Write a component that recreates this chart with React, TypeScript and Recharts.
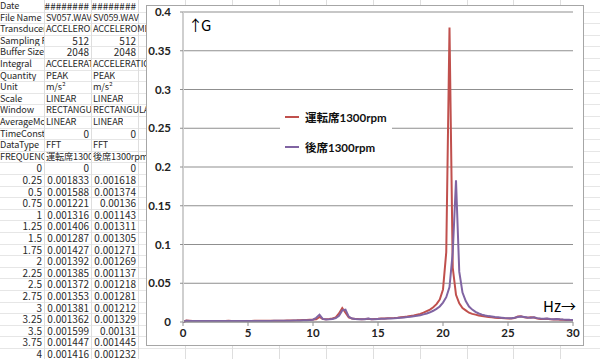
import React from "react";
import { LineChart, Line, XAxis, YAxis, CartesianGrid } from "recharts";

const freqs = [
  0, 0.25, 0.5, 0.75, 1, 1.25, 1.5, 1.75, 2, 2.25, 2.5, 2.75, 3, 3.25, 3.5, 3.75,
  4, 4.25, 4.5, 4.75, 5, 5.25, 5.5, 5.75, 6, 6.25, 6.5, 6.75, 7, 7.25, 7.5, 7.75,
  8, 8.25, 8.5, 8.75, 9, 9.25, 9.5, 9.75, 10, 10.25, 10.5, 10.75, 11, 11.25, 11.5, 11.75,
  12, 12.25, 12.5, 12.75, 13, 13.25, 13.5, 13.75, 14, 14.25, 14.5, 14.75, 15, 15.25, 15.5, 15.75,
  16, 16.25, 16.5, 16.75, 17, 17.25, 17.5, 17.75, 18, 18.25, 18.5, 18.75, 19, 19.25, 19.5, 19.75,
  20, 20.25, 20.5, 20.75, 21, 21.25, 21.5, 21.75, 22, 22.25, 22.5, 22.75, 23, 23.25, 23.5, 23.75,
  24, 24.25, 24.5, 24.75, 25, 25.25, 25.5, 25.75, 26, 26.25, 26.5, 26.75, 27, 27.25, 27.5, 27.75,
  28, 28.25, 28.5, 28.75, 29, 29.25, 29.5, 29.75, 30,
];

// 運転席1300rpm
const seatDriver = [
  0, 0.001833, 0.001588, 0.001221, 0.001316, 0.001406, 0.001287, 0.001427,
  0.001392, 0.001385, 0.001372, 0.001353, 0.001381, 0.001362, 0.001599, 0.001447,
  0.001416, 0.0014, 0.00138, 0.00145, 0.0014, 0.00142, 0.00147, 0.0015,
  0.00148, 0.00152, 0.00155, 0.0016, 0.00158, 0.00165, 0.0017, 0.00175,
  0.0018, 0.0019, 0.002, 0.0021, 0.0023, 0.0025, 0.0027, 0.003,
  0.0032, 0.0035, 0.0065, 0.0038, 0.0036, 0.004, 0.0045, 0.006,
  0.011, 0.018, 0.012, 0.006, 0.0045, 0.004, 0.0038, 0.0037,
  0.0038, 0.0042, 0.0036, 0.004, 0.0042, 0.0045, 0.0044, 0.0047,
  0.005, 0.0052, 0.0055, 0.006, 0.0065, 0.007, 0.0078, 0.0085,
  0.0095, 0.0105, 0.012, 0.014, 0.016, 0.019, 0.023, 0.029,
  0.042, 0.09, 0.38, 0.07, 0.035, 0.024, 0.018, 0.015,
  0.012, 0.0105, 0.0095, 0.0085, 0.0078, 0.007, 0.0065, 0.006,
  0.0056, 0.0052, 0.005, 0.0047, 0.0045, 0.0045, 0.005, 0.007,
  0.0075, 0.006, 0.0055, 0.006, 0.0058, 0.0045, 0.004, 0.0038,
  0.0042, 0.0035, 0.0033, 0.0035, 0.003, 0.0028, 0.0027, 0.0026, 0.0025,
];

// 後席1300rpm
const seatRear = [
  0, 0.001618, 0.001374, 0.00136, 0.001143, 0.001311, 0.001305, 0.001271,
  0.001269, 0.001137, 0.001218, 0.001281, 0.001212, 0.001329, 0.00131, 0.001445,
  0.001232, 0.00128, 0.0013, 0.00125, 0.00132, 0.0013, 0.00135, 0.00138,
  0.0014, 0.00138, 0.00142, 0.00145, 0.0015, 0.00148, 0.00155, 0.0016,
  0.00165, 0.0017, 0.0018, 0.0019, 0.002, 0.0022, 0.0024, 0.0026,
  0.003, 0.0055, 0.0095, 0.004, 0.0032, 0.0035, 0.004, 0.005,
  0.008, 0.015, 0.016, 0.007, 0.0045, 0.0038, 0.0036, 0.0035,
  0.0036, 0.0045, 0.0035, 0.0037, 0.004, 0.0042, 0.0041, 0.0044,
  0.0046, 0.0048, 0.0051, 0.0055, 0.0059, 0.0063, 0.0068, 0.0074,
  0.008, 0.0088, 0.0098, 0.011, 0.0125, 0.0145, 0.017, 0.02,
  0.025, 0.032, 0.045, 0.09, 0.183, 0.065, 0.038, 0.027,
  0.02, 0.016, 0.013, 0.011, 0.0095, 0.0085, 0.0076, 0.007,
  0.0064, 0.006, 0.0056, 0.0052, 0.005, 0.0048, 0.0055, 0.0065,
  0.007, 0.0065, 0.0058, 0.0055, 0.006, 0.005, 0.0045, 0.0042,
  0.0045, 0.004, 0.0037, 0.0038, 0.0034, 0.0031, 0.003, 0.0028, 0.0027,
];

const seriesNames = ["運転席1300rpm", "後席1300rpm"];
const seriesColors = ["#c0504d", "#8064a2"];
const xTicks = [0, 5, 10, 15, 20, 25, 30];
const yTicks = [0, 0.05, 0.1, 0.15, 0.2, 0.25, 0.3, 0.35, 0.4];

const sheetLabels = [
  "Date", "File Name", "Transducer", "Sampling Frequency", "Buffer Size", "Integral",
  "Quantity", "Unit", "Scale", "Window", "AverageMode", "TimeConstant", "DataType", "FREQUENCY",
];
const sheetColB = [
  "########", "SV057.WAV", "ACCELEROMETER", "512", "2048", "ACCELERATION",
  "PEAK", "m/s²", "LINEAR", "RECTANGULAR", "LINEAR", "0", "FFT", "運転席1300rpm",
];
const sheetColC = [
  "########", "SV059.WAV", "ACCELEROMETER", "512", "2048", "ACCELERATION",
  "PEAK", "m/s²", "LINEAR", "RECTANGULAR", "LINEAR", "0", "FFT", "後席1300rpm",
];
const sheetDataRows = 17;

const data = freqs.map((f, i) => ({ f, a: seatDriver[i], b: seatRear[i] }));

const ROW_H = 11.6;
const colEdges = [-2, 44, 91, 138, 185, 232, 279, 326, 373, 420, 467, 513, 560, 607];
const sheetFont = "'Noto Sans CJK JP', 'DejaVu Sans', sans-serif";

const isNum = (s: string) => /^-?[0-9.#]+$/.test(s);

function Cell({ col, row, text, clip }: { col: number; row: number; text: string; clip: boolean }) {
  const left = colEdges[col];
  const width = colEdges[col + 1] - colEdges[col];
  const num = isNum(text);
  return (
    <div
      style={{
        position: "absolute",
        left,
        top: row * ROW_H,
        width: clip || num ? width : "max-content",
        height: ROW_H,
        lineHeight: `${ROW_H}px`,
        fontSize: num ? 10 : 9.2,
        letterSpacing: num ? 0 : -0.15,
        fontFamily: sheetFont,
        color: "#2a2a2a",
        overflow: "hidden",
        whiteSpace: "nowrap",
        textAlign: num ? "right" : "left",
        paddingLeft: num ? 0 : 2,
        paddingRight: num ? 2 : 0,
        boxSizing: "border-box",
      }}
    >
      {text}
    </div>
  );
}

export default function App() {
  const rows: React.ReactNode[] = [];
  sheetLabels.forEach((t, r) => {
    rows.push(<Cell key={`a${r}`} col={0} row={r} text={t} clip />);
    rows.push(<Cell key={`b${r}`} col={1} row={r} text={sheetColB[r]} clip />);
    rows.push(<Cell key={`c${r}`} col={2} row={r} text={sheetColC[r]} clip={false} />);
  });
  for (let i = 0; i < sheetDataRows; i++) {
    const r = sheetLabels.length + i;
    rows.push(<Cell key={`fa${r}`} col={0} row={r} text={String(freqs[i])} clip />);
    rows.push(<Cell key={`fb${r}`} col={1} row={r} text={String(seatDriver[i])} clip />);
    rows.push(<Cell key={`fc${r}`} col={2} row={r} text={String(seatRear[i])} clip />);
  }

  const hLines: React.ReactNode[] = [];
  for (let i = 1; i * ROW_H < 359; i++) {
    hLines.push(
      <div
        key={`h${i}`}
        style={{ position: "absolute", left: 0, top: Math.round(i * ROW_H), width: 600, height: 1, background: "#e6e6e6" }}
      />
    );
  }
  const vLines = colEdges.slice(1).map((x, i) => (
    <div key={`v${i}`} style={{ position: "absolute", left: x, top: 0, width: 1, height: 359, background: "#dedede" }} />
  ));

  const tickStyle = { fontFamily: "Lato, 'Noto Sans', sans-serif", fontWeight: 700, fontSize: 11.5, fill: "#222" };

  return (
    <div style={{ position: "absolute", left: 0, top: 0, width: 600, height: 359, background: "#fff", overflow: "hidden" }}>
      {hLines}
      {vLines}
      {rows}
      <div
        style={{
          position: "absolute",
          left: 146,
          top: 5,
          width: 438,
          height: 341,
          border: "1px solid #a6a6a6",
          boxSizing: "border-box",
          background: "#fff",
        }}
      >
        <LineChart width={436} height={339} data={data} margin={{ top: 6, right: 10, bottom: 0, left: 0 }}>
          <CartesianGrid vertical={false} stroke="#8f8f8f" strokeWidth={1} />
          <XAxis
            dataKey="f"
            type="number"
            domain={[0, 30]}
            ticks={xTicks}
            height={23}
            stroke="#8f8f8f"
            tickSize={4}
            tickMargin={3}
            tick={tickStyle}
            interval={0}
          />
          <YAxis
            type="number"
            domain={[0, 0.4]}
            ticks={yTicks}
            width={36}
            stroke="#cfcfcf"
            strokeWidth={2}
            tickLine={{ stroke: "#8f8f8f", strokeWidth: 1 }}
            tickSize={3}
            tickMargin={9}
            tick={tickStyle}
            interval={0}
          />
          <Line
            type="linear"
            dataKey="a"
            name={seriesNames[0]}
            stroke={seriesColors[0]}
            strokeWidth={2}
            dot={false}
            isAnimationActive={false}
          />
          <Line
            type="linear"
            dataKey="b"
            name={seriesNames[1]}
            stroke={seriesColors[1]}
            strokeWidth={2}
            dot={false}
            isAnimationActive={false}
          />
        </LineChart>
        <div
          style={{
            position: "absolute",
            left: 133,
            top: 96,
            width: 112,
            height: 60,
            background: "#fff",
            paddingLeft: 5,
            boxSizing: "border-box",
          }}
        >
          {seriesNames.map((n, i) => (
            <div key={n} style={{ display: "flex", alignItems: "center", height: 30 }}>
              <span style={{ display: "inline-block", width: 14, height: 2, background: seriesColors[i], marginRight: 6 }} />
              <span
                style={{
                  fontFamily: "Lato, 'Noto Sans CJK JP', sans-serif",
                  fontWeight: 700,
                  fontSize: 11.5,
                  color: "#111",
                  whiteSpace: "nowrap",
                }}
              >
                {n}
              </span>
            </div>
          ))}
        </div>
        <div
          style={{
            position: "absolute",
            left: 41,
            top: 9,
            fontFamily: "'Noto Sans CJK JP', sans-serif",
            fontSize: 15,
            lineHeight: "20px",
            letterSpacing: -2,
            color: "#000",
          }}
        >
          ↑G
        </div>
        <div
          style={{
            position: "absolute",
            left: 396,
            top: 290,
            fontFamily: "'Noto Sans CJK JP', sans-serif",
            fontSize: 15,
            lineHeight: "20px",
            color: "#000",
          }}
        >
          Hz→
        </div>
      </div>
    </div>
  );
}
